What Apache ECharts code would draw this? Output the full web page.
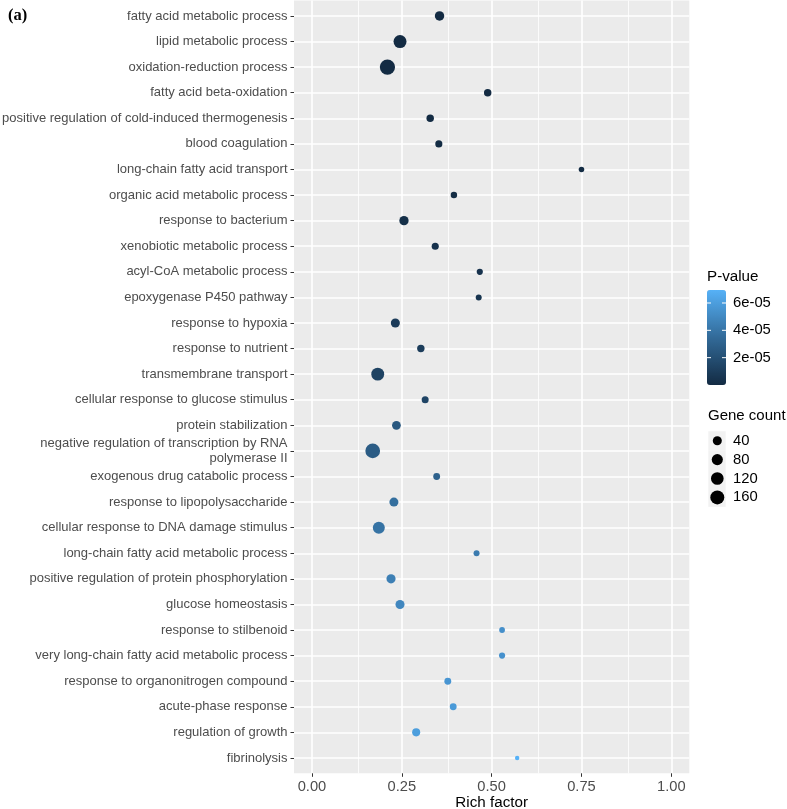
<!DOCTYPE html>
<html>
<head>
<meta charset="utf-8">
<script src="https://cdn.jsdelivr.net/npm/echarts@6/dist/echarts.min.js"></script>
<style>
html,body{margin:0;padding:0;background:#fff;}
#chart{width:787px;height:809px;}
</style>
</head>
<body>
<div id="chart"></div>
<script>
const categories = [
  'fatty acid metabolic process',
  'lipid metabolic process',
  'oxidation-reduction process',
  'fatty acid beta-oxidation',
  'positive regulation of cold-induced thermogenesis',
  'blood coagulation',
  'long-chain fatty acid transport',
  'organic acid metabolic process',
  'response to bacterium',
  'xenobiotic metabolic process',
  'acyl-CoA metabolic process',
  'epoxygenase P450 pathway',
  'response to hypoxia',
  'response to nutrient',
  'transmembrane transport',
  'cellular response to glucose stimulus',
  'protein stabilization',
  'negative regulation of transcription by RNA\npolymerase II',
  'exogenous drug catabolic process',
  'response to lipopolysaccharide',
  'cellular response to DNA damage stimulus',
  'long-chain fatty acid metabolic process',
  'positive regulation of protein phosphorylation',
  'glucose homeostasis',
  'response to stilbenoid',
  'very long-chain fatty acid metabolic process',
  'response to organonitrogen compound',
  'acute-phase response',
  'regulation of growth',
  'fibrinolysis'
];
const richFactor = [0.355,0.245,0.210,0.489,0.329,0.353,0.750,0.395,0.256,0.343,
                    0.467,0.464,0.232,0.303,0.183,0.315,0.235,0.169,0.347,0.228,
                    0.186,0.458,0.220,0.245,0.529,0.529,0.378,0.393,0.290,0.571];
const geneCount = [46,129,205,19,19,16,6,11,44,16,
                   9,8,40,19,125,15,36,184,14,40,
                   102,8,42,40,7,9,14,14,26,4];
const pValue = [2e-9,5e-9,1e-8,5e-8,1.5e-7,3e-7,6e-7,1e-6,2.5e-6,3.5e-6,
                4e-6,5e-6,9e-6,1.0e-5,1.3e-5,1.4e-5,2.5e-5,2.7e-5,3.0e-5,3.7e-5,
                3.9e-5,4.3e-5,4.5e-5,4.9e-5,5.3e-5,5.4e-5,5.6e-5,5.8e-5,6.0e-5,6.95e-5];
const xTicks = [0, 0.25, 0.5, 0.75, 1];
const xMinorTicks = [0.125, 0.375, 0.625, 0.875];
const pTicks = [2e-5, 4e-5, 6e-5];
const pTickLabels = ['2e-05', '4e-05', '6e-05'];
const countTicks = [40, 80, 120, 160];

const FONT = "'Liberation Sans', Arial, Helvetica, sans-serif";
const cMin = Math.min(...geneCount), cMax = Math.max(...geneCount);
const pMin = Math.min(...pValue), pMax = Math.max(...pValue);
function sizeFn(v) {
  return 4.47 + 10.82 * Math.sqrt(Math.max(0, (v - cMin) / (cMax - cMin)));
}
const catIdx = categories.map((c, i) => i);
const points = categories.map((c, i) => [richFactor[i], i, geneCount[i], pValue[i]]);

// legend geometry
const barLeft = 707, barTop = 290, barW = 19, barH = 95;
const graphics = [];
graphics.push({type:'text', left: 8, top: 7, style:{text:'(a)', font:"bold 16.5px 'Liberation Serif', 'Times New Roman', serif", fill:'#000'}});
graphics.push({type:'text', left: 707, top: 269, style:{text:'P-value', font:'15.2px ' + FONT, fill:'#000'}});
pTicks.forEach((v, i) => {
  const y = barTop + barH - (v - pMin) / (pMax - pMin) * barH;
  graphics.push({type:'line', shape:{x1:barLeft, y1:y, x2:barLeft+4, y2:y}, style:{stroke:'#fff', lineWidth:1}, z:100});
  graphics.push({type:'line', shape:{x1:barLeft+barW-4, y1:y, x2:barLeft+barW, y2:y}, style:{stroke:'#fff', lineWidth:1}, z:100});
  graphics.push({type:'text', x: 733, y: y, style:{text:pTickLabels[i], font:'14.8px ' + FONT, fill:'#000', textVerticalAlign:'middle'}});
});
graphics.push({type:'text', left: 708, top: 408, style:{text:'Gene count', font:'15px ' + FONT, fill:'#000'}});
countTicks.forEach((v, i) => {
  const cy = 440.7 + i * 18.9;
  graphics.push({type:'rect', shape:{x:708.3, y:cy-9.45, width:17.4, height:18.9}, style:{fill:'#F2F2F2'}});
  graphics.push({type:'circle', shape:{cx:717.3, cy:cy, r:sizeFn(v)/2}, style:{fill:'#000'}});
  graphics.push({type:'text', x: 733, y: cy, style:{text:String(v), font:'14.8px ' + FONT, fill:'#000', textVerticalAlign:'middle'}});
});

const chart = echarts.init(document.getElementById('chart'), null, {renderer:'canvas'});
chart.setOption({
  animation: false,
  backgroundColor: '#fff',
  grid: {left: 294, right: 97.7, top: 0.6, bottom: 35.7, show: true, backgroundColor: '#EBEBEB', borderWidth: 0, containLabel: false, outerBoundsMode: 'none'},
  xAxis: {
    type: 'value', min: -0.05, max: 1.05, position: 'bottom',
    name: 'Rich factor', nameLocation: 'middle', nameGap: 22, nameMoveOverlap: false,
    nameTextStyle: {fontFamily: FONT, fontSize: 15.2, color: '#000', verticalAlign: 'top'},
    axisLine: {show: false, onZero: false},
    axisTick: {show: true, length: 3.5, lineStyle: {color: '#333333', width: 1}, customValues: xTicks},
    axisLabel: {customValues: xTicks, formatter: v => Number(v).toFixed(2), fontFamily: FONT, fontSize: 14.7, color: '#4D4D4D', margin: 6.5},
    splitLine: {show: true, lineStyle: {color: '#FFFFFF', width: 1.6}}
  },
  yAxis: {
    type: 'value', min: -0.6, max: 29.6, inverse: true, position: 'left',
    axisLine: {show: false, onZero: false},
    axisTick: {show: true, length: 3.5, lineStyle: {color: '#333333', width: 1}, customValues: catIdx},
    axisLabel: {customValues: catIdx, formatter: v => categories[Math.round(v)] || '', fontFamily: FONT, fontSize: 13, color: '#4D4D4D', margin: 6.5, lineHeight: 15},
    splitLine: {show: true, lineStyle: {color: '#FFFFFF', width: 1.6}}
  },
  visualMap: {
    type: 'continuous', seriesIndex: 1, dimension: 3,
    min: pMin, max: pMax, calculable: false, orient: 'vertical',
    left: barLeft, top: barTop, itemWidth: barW, itemHeight: barH, padding: 0,
    text: null, showLabel: false,
    inRange: {color: ['#132B43', '#326A98', '#56B1F7']}
  },
  series: [
    {
      type: 'scatter', data: [], silent: true, z: 1,
      markLine: {
        silent: true, symbol: 'none', label: {show: false}, animation: false, z: 1,
        lineStyle: {color: '#FFFFFF', width: 0.8, type: 'solid'},
        data: xMinorTicks.map(v => ({xAxis: v}))
      }
    },
    {
      type: 'scatter', z: 3,
      data: points,
      symbol: 'circle',
      symbolSize: val => sizeFn(val[2]),
      itemStyle: {opacity: 1}
    }
  ],
  graphic: graphics
});
</script>
</body>
</html>
